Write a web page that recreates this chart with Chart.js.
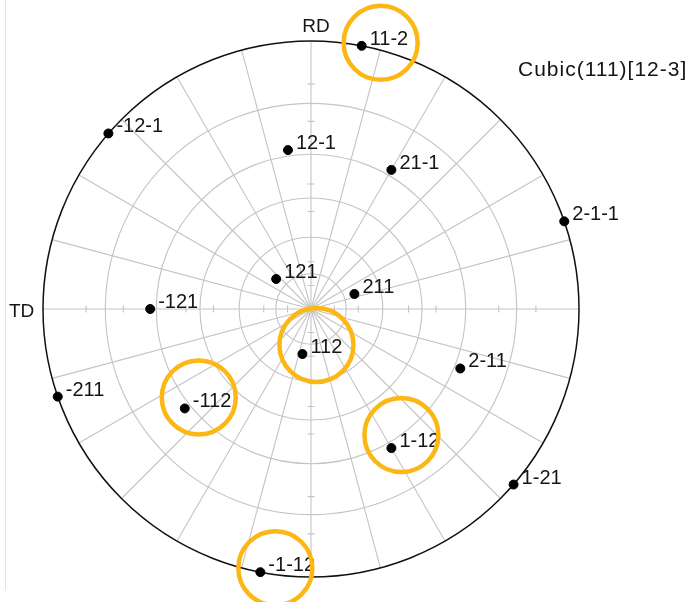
<!DOCTYPE html>
<html>
<head>
<meta charset="utf-8">
<title>Cubic(111)[12-3] pole figure</title>
<script src="https://cdn.jsdelivr.net/npm/chart.js@4/dist/chart.umd.min.js"></script>
<style>
  html, body { margin: 0; padding: 0; background: #fff; }
  #wrap { position: relative; width: 695px; height: 602px; }
  #edge { position: absolute; left: 5px; top: 0; width: 1px; height: 590px; background: #e2e2e2; }
  canvas { position: absolute; left: 0; top: 0; }
</style>
</head>
<body>
<div id="wrap">
  <div id="edge"></div>
  <canvas id="pf" width="695" height="602"></canvas>
</div>
<script>
// {112} poles, stereographic coordinates (unit = primitive circle radius)
const poleLabels = ['11-2', '12-1', '21-1', '2-1-1', '-12-1', '121', '211', '-121',
                    '112', '-211', '-112', '-1-12', '2-11', '1-12', '1-21'];
const poleX = [0.189, -0.086, 0.300, 0.945, -0.756, -0.130, 0.162, -0.600,
               -0.032, -0.945, -0.471, -0.189, 0.557, 0.300, 0.756];
const poleY = [0.982, 0.593, 0.519, 0.327, 0.655, 0.112, 0.056, 0.000,
               -0.168, -0.327, -0.371, -0.982, -0.222, -0.519, -0.655];

// Wulff-type net: tilt circles, azimuth spokes, axis ticks (degrees)
const tiltCircles = [15, 30, 45, 60, 75];
const azimuthSpokes = [0, 15, 30, 45, 60, 75, 90, 105, 120, 135, 150, 165,
                       180, 195, 210, 225, 240, 255, 270, 285, 300, 315, 330, 345];
const axisTicks = [10, 20, 40, 50, 70, 80];

// Poles ringed for emphasis
const ringed = ['11-2', '112', '-112', '1-12', '-1-12'];
const ringShift = { '11-2': [19, -3], '112': [14, -9], '-112': [14, -11], '1-12': [10, -13], '-1-12': [15, -4] };

const points = poleX.map((x, i) => ({ x: x, y: poleY[i], label: poleLabels[i] }));

function frame(chart) {
  const xs = chart.scales.x, ys = chart.scales.y;
  const cx = xs.getPixelForValue(0), cy = ys.getPixelForValue(0);
  const R = xs.getPixelForValue(1) - cx;
  return { cx, cy, R };
}

const netPlugin = {
  id: 'net',
  beforeDatasetsDraw(chart) {
    const ctx = chart.ctx;
    const { cx, cy, R } = frame(chart);
    ctx.save();
    ctx.strokeStyle = '#c4c4c4';
    ctx.lineWidth = 1.1;
    tiltCircles.forEach(t => {
      const r = R * Math.tan(t * Math.PI / 360);
      ctx.beginPath();
      ctx.arc(cx, cy, r, 0, Math.PI * 2);
      ctx.stroke();
    });
    azimuthSpokes.forEach(a => {
      const rad = a * Math.PI / 180;
      ctx.beginPath();
      ctx.moveTo(cx, cy);
      ctx.lineTo(cx + R * Math.cos(rad), cy - R * Math.sin(rad));
      ctx.stroke();
    });
    // ticks along the RD and TD axes
    axisTicks.forEach(t => {
      const r = R * Math.tan(t * Math.PI / 360);
      const h = 3.5;
      ctx.beginPath();
      ctx.moveTo(cx + r, cy - h); ctx.lineTo(cx + r, cy + h);
      ctx.moveTo(cx - r, cy - h); ctx.lineTo(cx - r, cy + h);
      ctx.moveTo(cx - h, cy + r); ctx.lineTo(cx + h, cy + r);
      ctx.moveTo(cx - h, cy - r); ctx.lineTo(cx + h, cy - r);
      ctx.stroke();
    });
    // primitive circle
    ctx.strokeStyle = '#111';
    ctx.lineWidth = 1.5;
    ctx.beginPath();
    ctx.arc(cx, cy, R, 0, Math.PI * 2);
    ctx.stroke();
    ctx.restore();
  },
  afterDatasetsDraw(chart) {
    const ctx = chart.ctx;
    const { cx, cy, R } = frame(chart);
    const meta = chart.getDatasetMeta(0);
    ctx.save();
    ctx.fillStyle = '#151515';
    ctx.font = '20px "Liberation Sans", Arial, sans-serif';
    ctx.textBaseline = 'alphabetic';
    ctx.textAlign = 'left';
    meta.data.forEach((el, i) => {
      ctx.fillText(poleLabels[i], el.x + 8, el.y - 1);
    });
    // axis names and title
    ctx.font = '19px "Liberation Sans", Arial, sans-serif';
    ctx.textAlign = 'center';
    ctx.fillText('RD', cx + 5, cy - R - 9);
    ctx.textAlign = 'left';
    ctx.fillText('TD', cx - R - 34, cy + 8);
    ctx.font = '21px "Liberation Sans", Arial, sans-serif';
    if ('letterSpacing' in ctx) ctx.letterSpacing = '1px';
    ctx.fillText('Cubic(111)[12-3]', 518, 76);
    ctx.restore();
  },
  afterDraw(chart) {
    const ctx = chart.ctx;
    const meta = chart.getDatasetMeta(0);
    ctx.save();
    ctx.strokeStyle = '#FDB714';
    ctx.lineWidth = 4.5;
    meta.data.forEach((el, i) => {
      const lab = poleLabels[i];
      if (!ringed.includes(lab)) return;
      const s = ringShift[lab];
      ctx.beginPath();
      ctx.arc(el.x + s[0], el.y + s[1], 37, 0, Math.PI * 2);
      ctx.stroke();
    });
    ctx.restore();
  }
};

new Chart(document.getElementById('pf'), {
  type: 'scatter',
  data: {
    datasets: [{
      data: points,
      backgroundColor: '#000',
      borderColor: '#000',
      pointRadius: 4.5,
      pointHoverRadius: 4.5
    }]
  },
  options: {
    responsive: false,
    animation: false,
    events: [],
    layout: { padding: { left: 43, right: 116, top: 41, bottom: 25 } },
    scales: {
      x: { type: 'linear', min: -1, max: 1, display: false },
      y: { type: 'linear', min: -1, max: 1, display: false }
    },
    plugins: {
      legend: { display: false },
      tooltip: { enabled: false }
    }
  },
  plugins: [netPlugin]
});
</script>
</body>
</html>
